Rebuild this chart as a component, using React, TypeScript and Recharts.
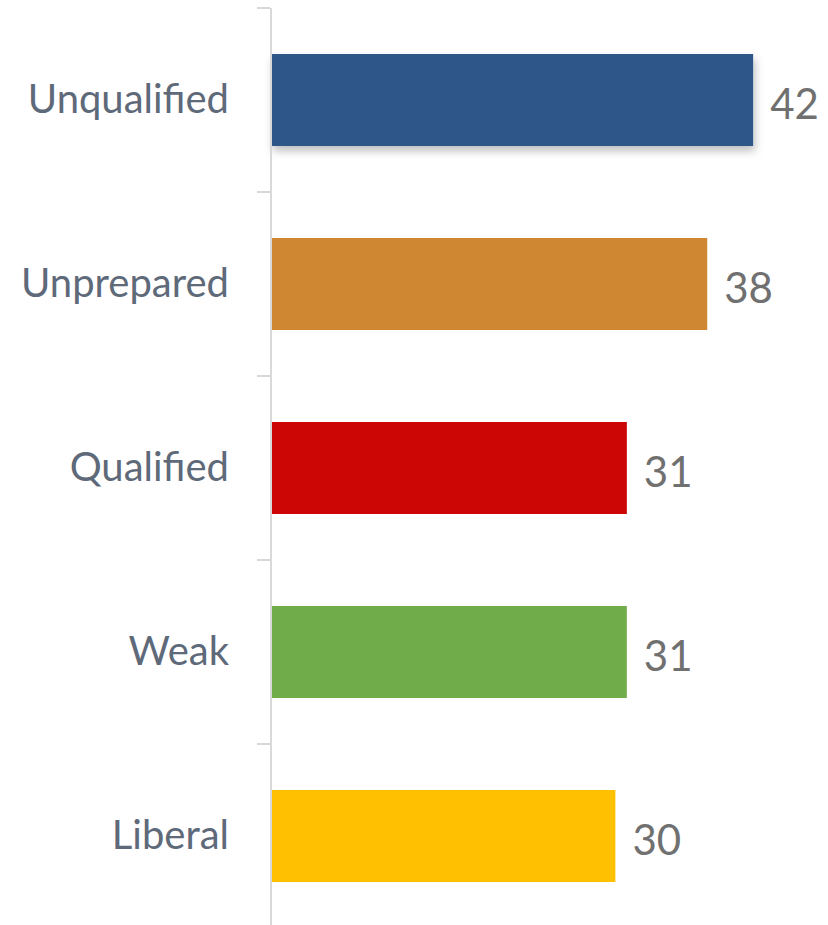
import { Bar, BarChart, Cell, LabelList, XAxis, YAxis } from 'recharts';

const categories = ['Unqualified', 'Unprepared', 'Qualified', 'Weak', 'Liberal'];
const values = [42, 38, 31, 31, 30];
const colors = ['#2E5788', '#CF8732', '#CC0505', '#71AC4A', '#FEC000'];

const data = categories.map((name, i) => ({ name, value: values[i], color: colors[i] }));

const CHART_HEIGHT = 928;
const TOP = 8;
const BAND = (CHART_HEIGHT - TOP) / categories.length;

function CategoryTick(props: any) {
  const { x, y, payload } = props;
  return (
    <g>
      <line x1={x + 28} x2={x + 41} y1={y - BAND / 2} y2={y - BAND / 2} stroke="#D9D9D9" strokeWidth={2} />
      <text
        x={x}
        y={y}
        dy="0.32em"
        textAnchor="end"
        fill="#5E6979"
        fontSize={40}
        fontFamily="Lato, 'Open Sans', sans-serif"
      >
        {payload.value}
      </text>
    </g>
  );
}

function ValueLabel(props: any) {
  const { x, y, width, height, value } = props;
  return (
    <text
      x={x + width + 17}
      y={y + height / 2}
      dy="0.45em"
      fill="#707070"
      fontSize={42}
      fontFamily="Lato, 'Open Sans', sans-serif"
    >
      {value}
    </text>
  );
}

export default function App() {
  return (
    <div
      style={{
        position: 'fixed',
        top: 0,
        left: 0,
        width: 828,
        height: 925,
        overflow: 'hidden',
        background: '#fff',
      }}
    >
      <BarChart
        layout="vertical"
        width={828}
        height={CHART_HEIGHT}
        data={data}
        margin={{ top: TOP, right: 6, bottom: 0, left: 0 }}
      >
        <defs>
          <filter id="barShadow" x="-10%" y="-20%" width="130%" height="160%">
            <feDropShadow dx="2" dy="5" stdDeviation="4" floodColor="#000" floodOpacity={0.25} />
          </filter>
        </defs>
        <XAxis type="number" domain={[0, 48]} hide />
        <YAxis
          type="category"
          dataKey="name"
          width={271}
          tickSize={13}
          tickMargin={29}
          tickLine={false}
          axisLine={{ stroke: '#D9D9D9', strokeWidth: 2 }}
          tick={<CategoryTick />}
          interval={0}
        />
        <Bar dataKey="value" barSize={92} isAnimationActive={false}>
          {data.map((d, i) => (
            <Cell key={d.name} fill={d.color} filter={i === 0 ? 'url(#barShadow)' : undefined} />
          ))}
          <LabelList dataKey="value" content={<ValueLabel />} />
        </Bar>
      </BarChart>
    </div>
  );
}
